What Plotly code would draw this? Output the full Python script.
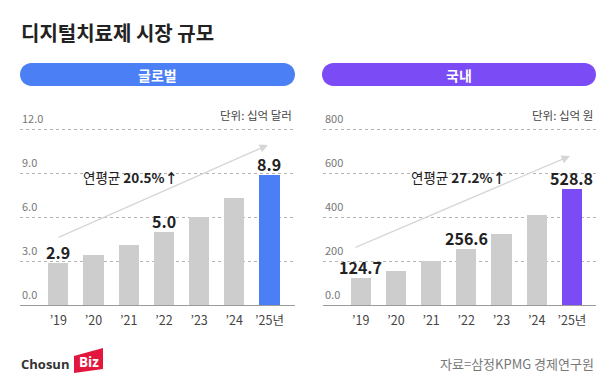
import plotly.graph_objects as go

OFF = 8  # page body margin
W, H = 616 - OFF, 383 - OFF

years = ["’19", "’20", "’21", "’22", "’23", "’24", "’25년"]
global_vals = [2.9, 3.4, 4.1, 5.0, 6.0, 7.3, 8.9]
domestic_vals = [124.7, 156.0, 200.0, 256.6, 326.0, 412.0, 528.8]
global_labels = {0: "2.9", 3: "5.0", 6: "8.9"}
domestic_labels = {0: "124.7", 3: "256.6", 6: "528.8"}
global_ticks = [0, 3, 6, 9, 12]
global_ticktext = ["0.0", "3.0", "6.0", "9.0", "12.0"]
domestic_ticks = [0, 200, 400, 600, 800]
domestic_ticktext = ["0.0", "200", "400", "600", "800"]

title = "디지털치료제 시장 규모"
panel_titles = ["글로벌", "국내"]
units = ["단위: 십억 달러", "단위: 십억 원"]
cagr = ["20.5%↑", "27.2%↑"]
source = "자료=삼정KPMG 경제연구원"

GRAY = "#cdcdcd"
BLUE = "#4b7ff5"
PURPLE = "#7b4cf6"
FONT = "Noto Sans CJK KR"


def px(x):
    return (x - OFF) / W


def py(y):
    return 1 - (y - OFF) / H


x_idx = list(range(len(years)))

fig = go.Figure()
fig.add_trace(go.Bar(
    x=x_idx, y=global_vals, width=0.57,
    marker=dict(color=[GRAY] * 6 + [BLUE], line=dict(width=0)),
    xaxis="x", yaxis="y", hoverinfo="skip",
))
fig.add_trace(go.Bar(
    x=x_idx, y=domestic_vals, width=0.57,
    marker=dict(color=[GRAY] * 6 + [PURPLE], line=dict(width=0)),
    xaxis="x2", yaxis="y2", hoverinfo="skip",
))

ydom = [py(305), py(124.8)]
common_x = dict(
    tickmode="array", tickvals=x_idx, ticktext=years, showgrid=False,
    zeroline=False, showline=True, linecolor="#9a9a9a", linewidth=1,
    ticks="", tickfont=dict(family=FONT, size=12.5, color="#444"),
    ticklabelstandoff=4, fixedrange=True,
)
common_y = dict(
    showgrid=True, gridcolor="#b5b5b5", griddash="dot", gridwidth=1,
    zeroline=False, showticklabels=False, ticks="", fixedrange=True,
    domain=ydom, tickmode="array",
)

fig.update_layout(
    width=W, height=H, autosize=False,
    margin=dict(l=0, r=0, t=0, b=0),
    paper_bgcolor="white", plot_bgcolor="rgba(0,0,0,0)",
    showlegend=False, bargap=0,
    xaxis=dict(domain=[px(20), px(295)], range=[-1.088, 6.725], anchor="y", **common_x),
    yaxis=dict(range=[0, 12.3], tickvals=global_ticks[1:], anchor="x", **common_y),
    xaxis2=dict(domain=[px(323), px(596)], range=[-1.071, 6.685], anchor="y2", **common_x),
    yaxis2=dict(range=[0, 820], tickvals=domestic_ticks[1:], anchor="x2", **common_y),
)

ann = []
shapes = []

# title
ann.append(dict(text=f"<b>{title}</b>", x=px(19), y=py(33), xref="paper", yref="paper",
                xanchor="left", yanchor="middle", showarrow=False,
                font=dict(family=FONT, size=20, color="#222")))


def pill(x0, x1, y0, y1, color):
    r = (y1 - y0) / 2
    k = 0.5523 * r
    X0, X1 = x0 + r, x1 - r
    pts = (
        f"M {px(X0)},{py(y0)} L {px(X1)},{py(y0)} "
        f"C {px(X1 + k)},{py(y0)} {px(x1)},{py(y0 + r - k)} {px(x1)},{py(y0 + r)} "
        f"C {px(x1)},{py(y0 + r + k)} {px(X1 + k)},{py(y1)} {px(X1)},{py(y1)} "
        f"L {px(X0)},{py(y1)} "
        f"C {px(X0 - k)},{py(y1)} {px(x0)},{py(y0 + r + k)} {px(x0)},{py(y0 + r)} "
        f"C {px(x0)},{py(y0 + r - k)} {px(X0 - k)},{py(y0)} {px(X0)},{py(y0)} Z"
    )
    return dict(type="path", path=pts, xref="paper", yref="paper",
                fillcolor=color, line=dict(width=0), layer="below")


panels = [
    dict(x0=20, x1=295, color=BLUE, xr="x", yr="y", vals=global_vals, labels=global_labels,
         ticks=global_ticks, ticktext=global_ticktext,
         arrow=((57, 238), (268, 145)), cagr_xy=(130, 177)),
    dict(x0=322, x1=596, color=PURPLE, xr="x2", yr="y2", vals=domestic_vals, labels=domestic_labels,
         ticks=domestic_ticks, ticktext=domestic_ticktext,
         arrow=((354, 248), (570, 156)), cagr_xy=(458, 177)),
]

for i, p in enumerate(panels):
    shapes.append(pill(p["x0"], p["x1"], 63, 86, p["color"]))
    ann.append(dict(text=f"<b>{panel_titles[i]}</b>", x=px((p["x0"] + p["x1"]) / 2), y=py(74.5),
                    xref="paper", yref="paper", xanchor="center", yanchor="middle",
                    showarrow=False, font=dict(family=FONT, size=14, color="white")))
    ann.append(dict(text=units[i], x=px(p["x1"] - 1), y=py(115), xref="paper", yref="paper",
                    xanchor="right", yanchor="middle", showarrow=False,
                    font=dict(family=FONT, size=11.5, color="#444")))
    for tv, tt in zip(p["ticks"], p["ticktext"]):
        ann.append(dict(text=tt, x=px(p["x0"] + (1 if i == 1 else 0)), y=tv, xref="paper", yref=p["yr"],
                        xanchor="left", yanchor="bottom", yshift=1, showarrow=False,
                        font=dict(family=FONT, size=11, color="#777")))
    # trend arrow
    (sx, sy), (ex, ey) = p["arrow"]
    ann.append(dict(x=px(ex), y=py(ey), ax=sx - ex, ay=sy - ey, xref="paper", yref="paper",
                    text="", showarrow=True,
                    arrowhead=2, arrowsize=1.3, arrowwidth=1.3, arrowcolor="#d6d6d6"))
    ann.append(dict(text=f"연평균 <b>{cagr[i]}</b>", x=px(p["cagr_xy"][0]), y=py(p["cagr_xy"][1]),
                    xref="paper", yref="paper", xanchor="center", yanchor="middle",
                    showarrow=False, font=dict(family=FONT, size=13.5, color="#222")))
    for k, lab in p["labels"].items():
        ann.append(dict(text=f"<b>{lab}</b>", x=k, y=p["vals"][k], xref=p["xr"], yref=p["yr"],
                        xanchor="center", yanchor="bottom", yshift=-3, showarrow=False,
                        font=dict(family=FONT, size=16, color="#222")))

# source
ann.append(dict(text=source, x=px(596), y=py(363), xref="paper", yref="paper",
                xanchor="right", yanchor="middle", showarrow=False,
                font=dict(family=FONT, size=13, color="#777")))

# logo
shapes.append(dict(type="path",
                   path=f"M {px(74)},{py(356)} L {px(103)},{py(348)} L {px(103)},{py(369)} L {px(74)},{py(373)} Z",
                   xref="paper", yref="paper", fillcolor="#e3173e", line=dict(width=0)))
ann.append(dict(text="<b>Chosun</b>", x=px(19), y=py(364), xref="paper", yref="paper",
                xanchor="left", yanchor="middle", showarrow=False,
                font=dict(family="Open Sans", size=13, color="#333")))
ann.append(dict(text="<b>Biz</b>", x=px(88.5), y=py(362), xref="paper", yref="paper",
                xanchor="center", yanchor="middle", showarrow=False,
                font=dict(family="Open Sans", size=13.5, color="white")))

fig.update_layout(annotations=ann, shapes=shapes)
fig.write_html("out.html")
